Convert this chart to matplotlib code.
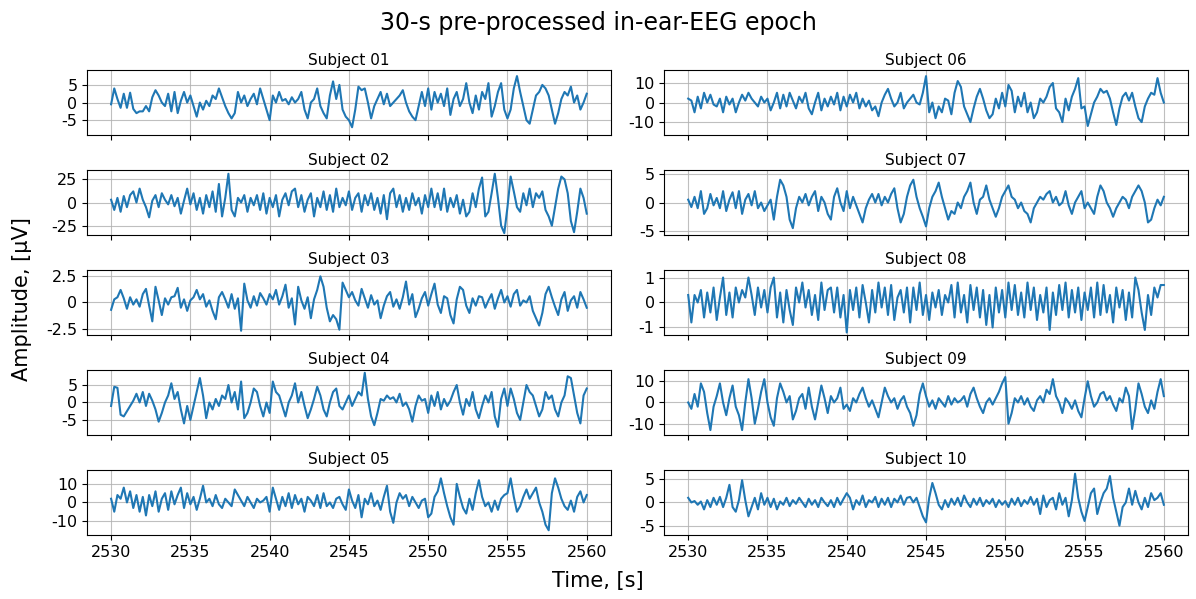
#!/usr/bin/env python3
"""
30-s in-ear-EEG epoch, one panel per subject
"""

import numpy as np
import matplotlib
matplotlib.use('Agg')
import matplotlib.pyplot as plt

# epoch window, seconds
t_start = 2530
t_end = 2560

# amplitude traces, uV (one sample every ~0.2 s)
subj01 = [-0.5,
          4, 1, -1.5, 2.5, -1.5, 2.8, -1.8, -3, -2.5, -2.5, -1, -2.5, 1.5, 3.5, 2, 0, -1, 2.5, -2.5, 3, -3, 0.5, 3, 0, 2,
          -1, -4, 0, -2, 0.5, -1, 2, 1, 4, 1.5, -1, -3, -4.5, -3, 3, 0, 2, -1, 1, 2.5, -0.5, 4, 1, -2, -5,
          2, 0, 3, 0.5, 1, -0.5, 1.5, 0, 1, 3, -2, -4.5, 0, 1, 4, -1, -3, -4.5, 2, 6, 1, 5, -2, -4, -5,
          -7, -2, 4.5, 3.5, 4, 0, -4.5, -1, 1, 3, -0.5, 2.5, -1, 0, 1, 2, 3.5, 0, -2.5, -4, -5, -1, 3, -1, 4,
          -2, 3, 0, 2.5, -1, 4, -3.5, 1, 3, -1, 1, 5.5, 0, -3, 2, -2, 3, 1, 5.5, -4, -1, 3, 5.5, -2, -4.5,
          -2, 4, 7.5, 3, -1, -5, -6, -2, 2, 3, 5, 4, 2, -2, -6, -3, 1, 3, 2, 4.5, 0, 2, -2, 0, 2.5]

subj02 = [3,
          -8, 5, -10, 7, -5, 8, 12, 0, 15, 3, -5, -16, 2, 8, -5, 10, 3, -2, 8, -4, 5, -12, 2, 15, -2,
          10, -8, 5, -12, 8, -5, 12, -10, 20, -15, 5, 31, -8, -15, 5, 0, 8, -10, 5, -3, 8, -8, 10, -12, 5,
          -5, 8, -15, 3, 10, -3, 12, 15, -5, 8, -10, 3, 10, -15, 5, -5, 12, -8, 8, -10, 15, -5, 5, -3, 12,
          -8, 5, 10, -10, 8, -3, 10, -8, 5, -12, 8, -18, 10, 15, -5, 8, -10, 5, -8, 10, -3, 5, -12, 8, -5,
          15, -5, 10, -8, 15, -10, 5, -5, 8, -12, 3, -15, -10, 10, -5, 15, 27, -15, -10, 10, 31, 5, -25, -33, -5,
          28, 12, -5, -10, 10, -3, 15, -5, 10, 5, 12, -8, -15, -25, -5, 15, 28, 25, 10, -20, -32, -10, 15, 5, -12]

subj03 = [-0.7,
          0.3, 0.5, 1.2, 0.4, -0.6, 0.5, -0.2, 0.3, -0.4, 0.8, 1.3, -0.3, -1.8, 1.5, 0.2, -1.2, 0.4, -0.2, 0.5, 0.6, 1.4, -0.5, 0.3, -0.8, 0.2,
          0.5, 1.2, 0.3, 0.8, -0.4, 0.2, -0.8, -1.6, 0.5, 1, 0.3, -0.5, 0.8, -0.6, 0.4, -2.7, 1.8, 0.2, -0.5, 0.6, -0.3, 0.9, 0.4, -0.2, 0.8,
          0.3, 1.2, -0.2, 0.6, 1.7, -0.5, 0.4, -2.1, 1.5, 0.2, -0.6, 0.5, -1.5, 0.3, 1.2, 2.5, 1.5, -0.5, -1.8, -1.2, -1.6, -2.6, 1.9, 1.2, 0.5,
          1, 0.2, -0.3, 1.3, 0.4, -0.5, 0.7, -0.2, 0.2, -1.5, -0.3, 0.6, 1, -0.4, 0.3, -0.6, 0.5, 2, -0.2, 0.8, -1.4, -0.6, 0.4, 1, -0.3,
          0.8, 1.8, -0.2, -1, 0.6, 0.4, -1.2, -2, 0.3, 1.5, 1.2, -0.3, -1, 0.4, -0.3, 0.6, 0.5, -0.5, 0.2, 0.8, -0.6, 0.4, 1.2, 0, 0.6,
          -0.4, 0.8, 1.2, -0.3, 0.2, 0, 0.6, -0.8, -1.5, -2.2, -1, 0.8, 1.5, 0.5, -0.4, -1.2, 0.3, 1, -0.8, 0.2, 0.6, -0.5, 1, 0.3, -0.5]

subj04 = [-1,
          4.5, 4.2, -3.5, -4, -2.5, -1, 0.5, 2.5, 0, 3, -1, 2.5, 0.5, -2, -5.5, -3, 0, 2, 5.5, 1, 3, -2, -6, -1, -5,
          -1, 3, 7, 2, -4.5, 0, -2, 1, -1, 2, 1, 5, 0, 3, -2, 6, -4.5, -3, 0, 4, 3, -1, -4, 0, -3,
          6, 3, 2, -1, -4, 0, 2, 5.5, 0, 3, -1, -4.5, -2, 1, 4.5, 2, -2, -4, 0, 3, 4, -1, -2, 0, 2,
          -1, 1, 3, 2, 8.5, 1, -4, -6.5, -3, 1, 0.5, 2, 1, 1.5, 0, 2.5, -1, 0, -2, -5.5, -1, 2, 0.5, 1, -3,
          2, -1, 3, -2, 1, -1, 0.5, 3, 5, 0, -3.5, 1, -1, 3, -2, -4.5, -1, 2, 0, 3, -4, -7, 1, 4, -1,
          4, 1, -3, -5, 0, 5, 3, 2, -1, -4, -2, 3, 1, 2, -2, -4, 0, 2, 7.5, 7, 2, -3, -6, 2, 4]

subj05 = [2,
          -5, 4, 2, 8, 0, 6, -3, 4, -5, 3, -7, 4, -2, 6, -5, 2, 5, -4, 6, -1, 4, 8, -3, 5, -1,
          3, -4, 2, 9, 0, 2, -2, 4, -1, -3, 2, 0, -2, 7, 4, 1, -2, 3, 0, -3, 2, 0, 1, 3, -5,
          8, 2, -4, 3, -2, 5, -3, 4, -1, 2, -5, 3, 1, -2, 4, -3, 5, -2, 0, -3, 2, 3, -1, -4, 7,
          1, -3, 4, -8, 2, -1, 5, -2, 1, -4, 3, 9, -5, -11, 0, 5, 2, 4, -2, 3, 0, -3, 1, 2, -8,
          -6, 3, 6, 13, 5, -2, -8, -12, 10, 3, -3, -6, 2, -4, 5, 12, 3, -2, 0, -5, 1, -4, 2, 4, 5,
          13, 3, -5, -2, 3, 7, 2, 5, 8, 0, -5, -12, -15, 5, 13, 8, 2, -2, -4, 1, -5, 3, 6, 0, 4]

subj06 = [2,
          1, -5, 3, -3, 5, 0, 4, -1, -2, 2, -5, 3, -1, 2, -5, 0, 4, 1, 5, 2, 0, -2, 3, 0, 2,
          -4, 0, 5, -3, 4, -2, 5, 1, -3, 3, 0, 5, -3, -6, 0, 5, -4, 2, -2, 3, -1, 5, -4, 3, -2,
          4, 0, 5, -3, 2, -2, 1, -4, -2, -7, 0, 4, 7, 2, -2, 0, 5, -3, 0, 2, 4, 0, -1, 5, 13.5,
          -5, 0, -8, -2, -5, 2, 1, -6, 5, 11, 8, -2, -6, -10, -3, 3, 7, 2, -4, -8, -6, 2, -3, 5, -2,
          9, 6, -5, 3, -2, 5, -5, 0, -8, -5, 2, 0, 3, 8, 10, -3, -5, -10, 2, -4, 3, 7, 12.5, -3, -2,
          -12, -6, 0, 3, 7, 5, 6, 2, -5, -11.5, -3, 3, 5, 1, 5, -2, -8, -10, -2, 2, 5, 4, 12.5, 5, 0]

subj07 = [0.5,
          -0.8, 1, -1, 2, -2, -1, 1.5, -0.5, 0.8, -1, 2, -1.5, 0.5, 1.8, -1, 2, -2, 0.5, 1.5, -0.5, 2, -1, 0, -1.5, -0.5,
          0.5, -3, 1, 4, 3, 1, -3, -4.5, -1, 1, 0, 1.5, -0.5, 1, 2, -1.5, 1, 0, -2, -3, 1, 2.5, 0, -1.5, 2,
          -1, 1, -0.5, -2, -3.5, -1, 0.5, 1.5, 0, 1.5, -0.5, 1, 0, 1.5, 2.5, -1, -3.5, -2, 1, 3, 4, 1, -1, -2.5, -4.2,
          -1, 1, 2, 3.5, 1, -1, -3, -1.5, -2, 0, -1, 1, 2, 3.5, 0, -2, 0.5, 1, 3, 0.5, -1, -2.5, -1, 1, 2,
          3, 1, 0.5, -1, 0, -1.5, -2, -3.5, -1, 0, 1, 0.5, 1.5, 2, 0, 1, -0.5, 0, 2, -0.5, -2, 0, 1, 2, -1,
          0, -1, -2, 1, 3, 2, 0, -1, -2.5, -1, 0, 1, 0.5, -1, 1, 2, 3, 2, 0, -3.5, -3, -1, 0.5, -0.5, 1]

subj08 = [0.3,
          -0.8, 0.3, 0, 0.5, -0.6, 0.4, -0.4, 0.6, -0.7, 0.2, 1, -0.5, 0.4, -0.6, 0.6, 0, 0.5, 0.2, 1, 0.3, -0.5, 0.6, -0.2, 0.5, -0.4,
          0.6, 1, -0.6, 0.4, -0.8, 0.5, -0.3, -0.9, 0.6, 0, 0.8, -0.2, 0.5, -0.5, 0.3, -0.7, 0.8, -0.3, 0.5, 0.6, -0.4, 0.6, -0.6, 0.3, -1.2,
          0.5, -0.3, 0.6, -0.6, 0.7, 0, -0.8, 0.5, -0.4, 0.8, -0.2, 0.6, -0.5, 0.7, -0.7, 0.2, 0.5, -0.4, 0.6, -0.8, 0.6, -0.3, 0.8, -0.5, 0.3,
          -0.7, 0.4, -0.2, 0.5, -0.5, 0.3, 0, 0.7, -0.6, 0.8, -0.4, 0.3, -0.8, 0.7, -0.3, 0.6, -0.6, 0.5, -0.9, 0.3, -1, 0.6, -0.4, 0.5, -0.6,
          0.8, -0.3, 0.7, -0.5, 0.4, -0.6, 0.8, -0.3, 0.6, -0.7, 0.3, -0.4, 0.6, -1.1, 0.4, -0.5, 0.7, -0.3, 0.8, -0.6, 0.5, -0.4, 0.6, -0.7, 0.4,
          -0.3, 0.6, -0.6, 0.8, -0.5, 0.7, -0.4, 0.3, -0.8, 0.6, -0.2, 0.5, -0.7, 0.4, -0.6, 1, 0.5, -0.4, -1.1, 0.3, -0.5, 0.6, 0.2, 0.7, 0.7]

subj09 = [0,
          -3, 4, -2, 9, 5, -5, -13, -2, 3, 9, 0, -6, 2, 8, -2, -6, -13, 0, 11, 2, -10, -3, 5, 11, 0,
          -7, -11, 2, 9, 5, 0, 3, -8, -4, 2, 4, -3, 7, -2, -8, 0, 8, 2, -5, 3, 0, 2, 7, -3, -1,
          -4, 2, 0, 4, 7, 2, -2, 1, -3, -7, 0, 7, 3, 0, 2, -3, 1, 3, -2, -5, -11, -6, 4, 9, 3,
          -2, 1, -3, 2, 0, -2, 3, -1, 2, 0, 1, 3, -2, 4, 7, 2, -2, -5, 0, 2, -1, 2, 5, 9, 12,
          -10, -5, 2, 0, 3, -1, 2, -2, -4, 1, 3, 0, 6, 4, 11, 3, 0, -5, 2, 0, -3, 1, -4, -7, 2,
          10, 3, -2, 0, 4, 5, 1, 3, -1, -4, 2, 0, 7, 3, -12.5, -3, 9, 4, -2, -5, 1, -3, 5, 11, 3]

subj10 = [1,
          0, 0.3, -0.5, 0.2, -1.5, 0.5, -1, 1, -0.5, 1.2, -1, 1, 3.8, -1, -2, 0.5, 4.8, 0.5, -3, -1, 1, -1.5, 2, -0.5, 1,
          -1, 0.8, -1.5, 0.2, -0.5, 1, -0.8, 0.5, -0.3, 1, 0, -1, 0.8, -0.5, 0.5, -1, 1, 0, -0.8, 0.5, -1, 1, -0.5, 0.8, 2,
          1, -1.5, 0.5, -0.5, 1.5, -1, 0.5, 0, 1.2, -1, 0.8, -0.5, 1, -1, 0.8, 0, 1.5, -0.5, 1, 1.2, 0, 1, -1, -3, -4.3,
          1, 4.2, 2, -0.5, -1.5, 0.5, -1, 0.8, -0.5, 1, -0.8, 1.5, 0, -1, 0.8, -0.5, 1, -0.8, 0.5, -0.3, 0.8, -1, 0.5, -0.5, 0.3,
          -1, 0.8, -0.5, 1, -0.8, 0.5, -0.3, 1.2, -0.5, 0.8, -2.5, 1.5, -1, 0.5, 1, -1.5, 2, -0.5, 1, -3, 0.5, 6.2, 1, -2, -4,
          -1, 2, 3, -2.5, 0, 2, 3, 5.7, 1, -2, -5, -1, 0, 3, -0.5, 2.5, 0, -1.5, 1, -1, 2, 0.5, 1, 2, -0.5]

subjects = ['Subject 01', 'Subject 02', 'Subject 03', 'Subject 04', 'Subject 05',
            'Subject 06', 'Subject 07', 'Subject 08', 'Subject 09', 'Subject 10']
traces = [subj01, subj02, subj03, subj04, subj05, subj06, subj07, subj08, subj09, subj10]

# y limits and ticks per subject, as shown in the reference
ylims = [9.2, 35, 3.1, 9.3, 17.5, 16.6, 5.7, 1.3, 15.3, 7.0]
yticks = [[-5, 0, 5], [-25, 0, 25], [-2.5, 0, 2.5], [-5, 0, 5], [-10, 0, 10],
          [-10, 0, 10], [-5, 0, 5], [-1, 0, 1], [-10, 0, 10], [-5, 0, 5]]
xticks = [2530, 2535, 2540, 2545, 2550, 2555, 2560]

fig, axes = plt.subplots(5, 2, figsize=(11.96, 5.99), dpi=100, sharex=True)
fig.subplots_adjust(left=0.073, right=0.993, top=0.883, bottom=0.107, wspace=0.103, hspace=0.54)

for i in range(10):
    ax = axes[i % 5, i // 5]
    y = np.array(traces[i])
    t = np.linspace(t_start, t_end, len(y))
    ax.plot(t, y, color='#1f77b4', linewidth=1.5)
    ax.set_title(subjects[i], fontsize=11, pad=4)
    ax.set_ylim(-ylims[i], ylims[i])
    ax.set_yticks(yticks[i])
    ax.set_yticklabels([f'{v:g}' for v in yticks[i]])
    ax.set_xticks(xticks)
    ax.tick_params(labelsize=11.5)
    ax.grid(True, color='#b0b0b0', linewidth=0.8, alpha=0.8)

axes[0, 0].set_xlim(t_start - 1.5, t_end + 1.5)

fig.suptitle('30-s pre-processed in-ear-EEG epoch', fontsize=17, y=0.982)
fig.supxlabel('Time, [s]', fontsize=15, y=0.014)
fig.supylabel('Amplitude, [µV]', fontsize=15, x=0.01)

plt.savefig('out.png', dpi=100)
